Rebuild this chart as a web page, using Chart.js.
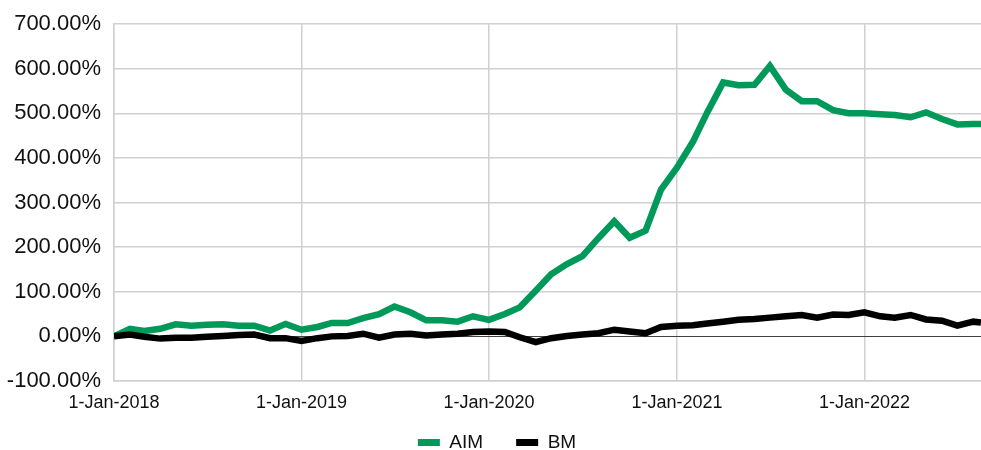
<!DOCTYPE html>
<html>
<head>
<meta charset="utf-8">
<script src="https://cdn.jsdelivr.net/npm/chart.js@4"></script>
<style>
html,body{margin:0;padding:0;background:#fff;}
#wrap{width:981px;height:450px;position:relative;}
</style>
</head>
<body>
<div id="wrap"><canvas id="c" width="981" height="450"></canvas></div>
<script>
// ---- data ----
const dates = [
 '2018-01-01','2018-02-01','2018-03-01','2018-04-01','2018-05-01','2018-06-01','2018-07-01','2018-08-01','2018-09-01','2018-10-01','2018-11-01','2018-12-01',
 '2019-01-01','2019-02-01','2019-03-01','2019-04-01','2019-05-01','2019-06-01','2019-07-01','2019-08-01','2019-09-01','2019-10-01','2019-11-01','2019-12-01',
 '2020-01-01','2020-02-01','2020-03-01','2020-04-01','2020-05-01','2020-06-01','2020-07-01','2020-08-01','2020-09-01','2020-10-01','2020-11-01','2020-12-01',
 '2021-01-01','2021-02-01','2021-03-01','2021-04-01','2021-05-01','2021-06-01','2021-07-01','2021-08-01','2021-09-01','2021-10-01','2021-11-01','2021-12-01',
 '2022-01-01','2022-02-01','2022-03-01','2022-04-01','2022-05-01','2022-06-01','2022-07-01','2022-08-01','2022-08-16'
];
const aim = [
 0, 17, 12, 17, 27, 24, 26, 27, 24, 24, 13, 28,
 15, 21, 30, 30, 41, 50, 67, 54, 36, 36, 33, 45,
 37, 50, 65, 102, 139, 162, 180, 220, 258, 221, 237, 329,
 378, 436, 502, 569, 563, 564, 606, 553, 527, 527, 507, 500,
 500, 498, 496, 491, 502, 487, 475, 476, 476
];
const bm = [
 0, 4, -1, -5, -3, -3, -1, 1, 3, 4, -4, -4,
 -10, -4, 0, 1, 6, -3, 4, 6, 2, 4, 6, 10,
 11, 10, -2, -13, -4, 1, 4, 7, 15, 11, 7, 21,
 24, 25, 29, 33, 37, 39, 42, 45, 48, 42, 49, 48,
 54, 45, 42, 48, 38, 35, 24, 33, 31
];
const seriesNames = ['AIM', 'BM'];
const seriesColors = ['#00995A', '#000000'];
const xTickDates = ['2018-01-01','2019-01-01','2020-01-01','2021-01-01','2022-01-01'];
const xTickLabels = ['1-Jan-2018','1-Jan-2019','1-Jan-2020','1-Jan-2021','1-Jan-2022'];
const yMin = -100, yMax = 700, yStep = 100;

// ---- helpers ----
function dayIndex(s){
  const p = s.split('-').map(Number);
  return (Date.UTC(p[0], p[1]-1, p[2]) - Date.UTC(2018,0,1)) / 86400000;
}
const xs = dates.map(dayIndex);
const tickXs = xTickDates.map(dayIndex);
const xMax = xs[xs.length-1];

const FONT = "'Liberation Sans', Arial, sans-serif";
const GRID = '#d0d0d0';

const legendFitPlugin = {
  id: 'legendFit',
  beforeLayout(chart){
    const lg = chart.legend;
    if (lg && !lg._patched){
      const orig = lg.fit.bind(lg);
      lg.fit = function(){ orig(); this.height = 25.4; };
      lg._patched = true;
    }
  },
  afterLayout(chart){
    const lg = chart.legend;
    if (lg){
      lg.top = chart.chartArea.bottom + 19;
      lg.bottom = chart.height;
      lg.height = lg.bottom - lg.top;
      lg.left += 6.5; lg.right += 6.5;
    }
  }
};

new Chart(document.getElementById('c'), {
  type: 'line',
  data: {
    datasets: [
      {
        label: seriesNames[0],
        data: xs.map((x,i)=>({x:x, y:aim[i]})),
        borderColor: seriesColors[0],
        backgroundColor: seriesColors[0],
        borderWidth: 6.5,
        pointRadius: 0,
        tension: 0,
        order: 1
      },
      {
        label: seriesNames[1],
        data: xs.map((x,i)=>({x:x, y:bm[i]})),
        borderColor: seriesColors[1],
        backgroundColor: seriesColors[1],
        borderWidth: 6.5,
        pointRadius: 0,
        tension: 0,
        order: 0
      }
    ]
  },
  options: {
    responsive: false,
    animation: false,
    devicePixelRatio: 1,
    layout: { padding: { left: 0, right: 0, top: 0, bottom: 0 } },
    plugins: {
      tooltip: { enabled: false },
      legend: {
        position: 'bottom',
        labels: {
          boxWidth: 22,
          boxHeight: 7,
          padding: 33,
          color: '#111',
          font: { family: FONT, size: 19 },
          sort: (a,b) => a.datasetIndex - b.datasetIndex,
          generateLabels: (chart) => Chart.defaults.plugins.legend.labels.generateLabels(chart)
                                      .map(l => Object.assign(l, { lineWidth: 0 }))
        }
      }
    },
    scales: {
      x: {
        type: 'linear',
        min: 0,
        max: xMax,
        afterBuildTicks: (axis) => { axis.ticks = tickXs.map(v => ({value: v})); },
        ticks: {
          autoSkip: false,
          maxRotation: 0,
          padding: 11,
          color: '#111',
          font: { family: FONT, size: 18 },
          callback: (v) => { const i = tickXs.indexOf(v); return i >= 0 ? xTickLabels[i] : ''; }
        },
        grid: { color: GRID, lineWidth: 1.5, drawTicks: false },
        border: { display: true, color: GRID, width: 1.5 }
      },
      y: {
        min: yMin,
        max: yMax,
        afterFit: (axis) => { axis.width = 114; },
        ticks: {
          stepSize: yStep,
          padding: 13,
          color: '#111',
          font: { family: FONT, size: 22, lineHeight: 1 },
          callback: (v) => v.toFixed(2) + '%'
        },
        grid: {
          color: (ctx) => (ctx.tick && ctx.tick.value === 0) ? '#404040' : GRID,
          lineWidth: (ctx) => (ctx.tick && ctx.tick.value === 0) ? 1 : 1.5,
          drawTicks: false
        },
        border: { display: true, color: GRID, width: 1.5 }
      }
    }
  },
  plugins: [legendFitPlugin]
});
</script>
</body>
</html>
